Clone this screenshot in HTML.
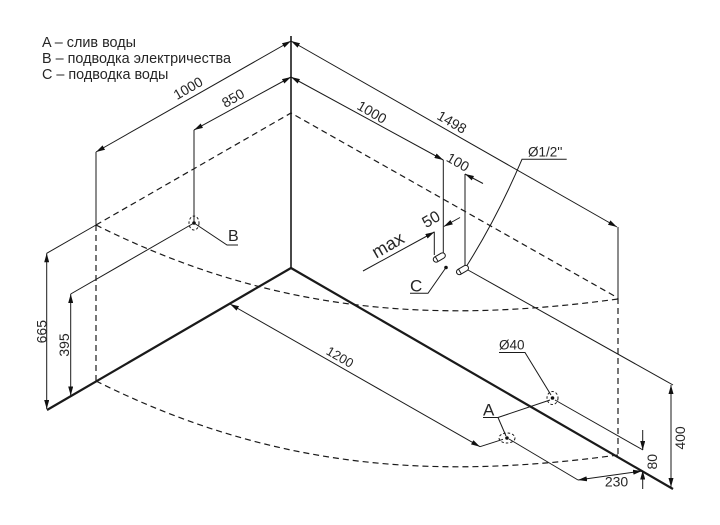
<!DOCTYPE html>
<html><head><meta charset="utf-8"><style>
html,body{margin:0;padding:0;background:#fff;}
svg{display:block;}
text{font-family:"Liberation Sans","DejaVu Sans",sans-serif;fill:#262626;font-weight:400;stroke:none;}
</style></head><body>
<svg width="720" height="525" viewBox="0 0 720 525" xmlns="http://www.w3.org/2000/svg">
<defs>
<marker id="a" viewBox="0 0 9 5" refX="9" refY="2.5" markerWidth="9" markerHeight="5" markerUnits="userSpaceOnUse" orient="auto-start-reverse"><path d="M0,0L9,2.5L0,5z" fill="#111"/></marker>
</defs>
<rect width="720" height="525" fill="#fff"/>

<!-- legend -->
<text x="42" y="47" font-size="14.4">A – слив воды</text>
<text x="42" y="63" font-size="14.4">B – подводка электричества</text>
<text x="42" y="79" font-size="14.4">C – подводка воды</text>

<g stroke="#1a1a1a" fill="none">
<!-- corner vertical -->
<line x1="291" y1="36" x2="291" y2="268" stroke-width="1.6"/>
<!-- thick floor edges -->
<line x1="291" y1="268" x2="47" y2="410" stroke-width="2.2"/>
<line x1="291" y1="268" x2="673" y2="489" stroke-width="2.2"/>

<!-- dashed rim and arcs -->
<g stroke-dasharray="6,4" stroke-width="1.2">
<path d="M96,225 L291,113 L618,298"/>
<path d="M96,225 C276,315 438,323.4 618,299"/>
<path d="M96,381 C276,471 438,479.4 618,455"/>
<line x1="96" y1="225" x2="96" y2="381"/>
<line x1="618" y1="298" x2="618" y2="456"/>
</g>

<g stroke-width="1">
<!-- extension lines -->
<line x1="96" y1="152" x2="96" y2="225"/>
<line x1="618" y1="227" x2="618" y2="298"/>
<line x1="194" y1="130" x2="194" y2="222"/>
<line x1="96" y1="225" x2="46.7" y2="253.3"/>
<line x1="194" y1="223" x2="70.7" y2="294"/>
<line x1="443.3" y1="160" x2="443.3" y2="253"/>
<line x1="465" y1="174" x2="465" y2="266"/>
<line x1="434.3" y1="231.7" x2="434.3" y2="255"/>
<line x1="468" y1="270" x2="673" y2="385"/>
<line x1="555" y1="400" x2="643" y2="450"/>
<line x1="509" y1="439" x2="578" y2="480"/>
<line x1="480" y1="446.7" x2="503" y2="439.3"/>

<!-- dimension lines -->
<line x1="291" y1="41" x2="96" y2="152" marker-start="url(#a)" marker-end="url(#a)"/>
<line x1="291" y1="77" x2="194" y2="130" marker-start="url(#a)" marker-end="url(#a)"/>
<line x1="291" y1="77" x2="443.3" y2="160" marker-start="url(#a)" marker-end="url(#a)"/>
<line x1="291" y1="41" x2="617" y2="227" marker-start="url(#a)" marker-end="url(#a)"/>
<line x1="483" y1="183.5" x2="465" y2="174" marker-end="url(#a)"/>
<line x1="363" y1="271" x2="434.3" y2="232" marker-end="url(#a)"/>
<line x1="460" y1="217.5" x2="443.8" y2="226.5" marker-end="url(#a)"/>
<line x1="230" y1="304" x2="480" y2="446.7" marker-start="url(#a)" marker-end="url(#a)"/>
<line x1="46.7" y1="253.3" x2="46.7" y2="409" marker-start="url(#a)" marker-end="url(#a)"/>
<line x1="70.7" y1="294" x2="70.7" y2="395.5" marker-start="url(#a)" marker-end="url(#a)"/>
<line x1="671" y1="385" x2="671" y2="487" marker-start="url(#a)" marker-end="url(#a)"/>
<line x1="578" y1="480" x2="642" y2="471" marker-start="url(#a)" marker-end="url(#a)"/>
<line x1="642.7" y1="430" x2="642.7" y2="450" marker-end="url(#a)"/>
<line x1="642.7" y1="489" x2="642.7" y2="470.5" marker-end="url(#a)"/>

<!-- leaders -->
<polyline points="194,223 227,245 238,245"/>
<polyline points="446,267.5 428,293.3 410,293.3"/>
<path d="M466,267 Q497,218 522,159.3 L566.7,159.3"/>
<polyline points="551,395 525,352.5 499,352.5"/>
<polyline points="550,400 498,417.5 483,417.5"/>
<line x1="498" y1="417.5" x2="506" y2="436"/>
</g>
</g>

<!-- drains -->
<g stroke="#1a1a1a" fill="none" stroke-width="1" stroke-dasharray="2.5,2">
<ellipse cx="194" cy="223" rx="5" ry="7"/>
<ellipse cx="552.5" cy="398" rx="5.5" ry="6.5"/>
<ellipse cx="507" cy="438" rx="8" ry="5"/>
</g>
<g fill="#111">
<circle cx="194" cy="223" r="1.8"/>
<circle cx="552.5" cy="398" r="1.8"/>
<circle cx="507" cy="438" r="1.8"/>
<circle cx="446" cy="267.5" r="1.8"/>
</g>

<!-- fittings -->
<g stroke="#1a1a1a" fill="#fff" stroke-width="1">
<rect x="-6.5" y="-2.8" width="13" height="5.6" rx="2.8" transform="translate(439.3,257.5) rotate(-30)"/>
<rect x="-6.5" y="-2.8" width="13" height="5.6" rx="2.8" transform="translate(462.5,270) rotate(-30)"/>
<line x1="-3" y1="-2.8" x2="-3" y2="2.8" transform="translate(439.3,257.5) rotate(-30)"/>
<line x1="-3" y1="-2.8" x2="-3" y2="2.8" transform="translate(462.5,270) rotate(-30)"/>
</g>

<!-- labels -->
<text x="228" y="241" font-size="16">B</text>
<text x="410" y="291.5" font-size="17">C</text>
<text x="483" y="415.5" font-size="17">A</text>
<text x="499" y="349.5" font-size="13.5">Ø40</text>
<text x="528" y="156.5" font-size="13.5">Ø1/2''</text>

<!-- dimension texts -->
<g font-size="14" text-anchor="middle" dominant-baseline="central">
<text transform="translate(188,88) rotate(-30)">1000</text>
<text transform="translate(233,98) rotate(-30)">850</text>
<text transform="translate(372,112) rotate(30)">1000</text>
<text transform="translate(452,122) rotate(30)">1498</text>
<text transform="translate(458,162) rotate(30)">100</text>
<text font-size="16" transform="translate(431.5,220) rotate(-30)">50</text>
<text font-size="18" transform="translate(388,245) rotate(-30)">max</text>
<text font-size="13" transform="translate(340,357) rotate(30)">1200</text>
<text transform="translate(41.7,331.7) rotate(-90)">665</text>
<text transform="translate(64,345) rotate(-90)">395</text>
<text transform="translate(680,438) rotate(-90)">400</text>
<text transform="translate(652,461.7) rotate(-90)">80</text>
<text transform="translate(616.5,481.7)">230</text>
</g>
</svg>
</body></html>
